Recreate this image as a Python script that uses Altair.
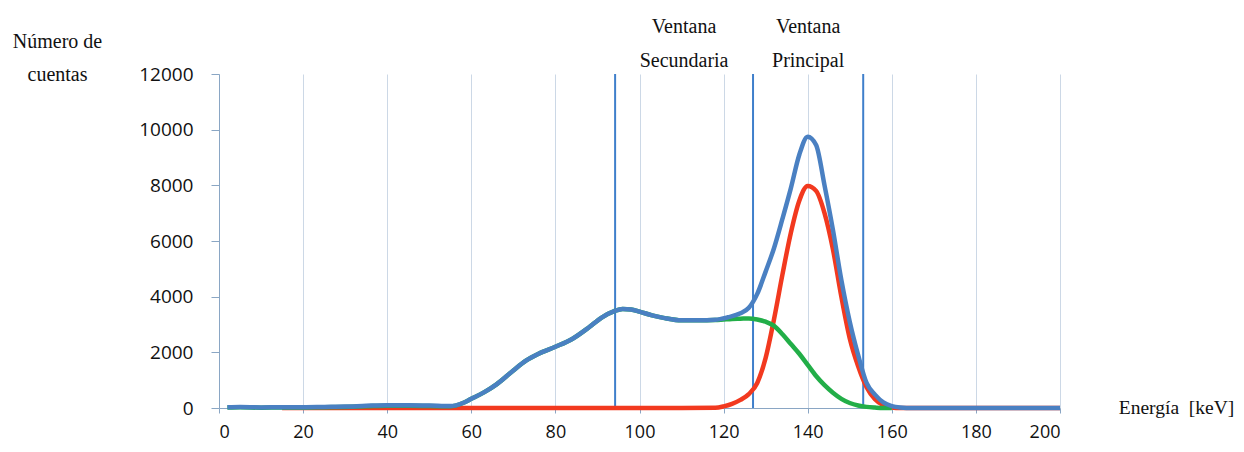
import altair as alt
import pandas as pd

# Energy axis (keV) and counts
e_total = [2, 5, 10, 15, 20, 25, 30, 35, 40, 45, 50, 55, 58, 60, 63, 66, 70, 73, 76, 80, 84, 88, 91, 94,
           96, 98, 100, 103, 106, 110, 114, 118, 121, 124, 126, 128, 130, 132, 134, 136, 138, 140,
           142, 144, 146, 148, 150, 152, 154, 156, 158, 160, 162, 165, 170, 180, 190, 200]
total = [30, 40, 20, 30, 30, 40, 50, 80, 100, 100, 90, 70, 180, 330, 560, 850, 1350, 1700, 1950, 2200, 2480,
         2900, 3250, 3480, 3560, 3540, 3460, 3330, 3230, 3150, 3150, 3170, 3260, 3400, 3600, 4100, 4900,
         5750, 6800, 7900, 9100, 9750, 9450, 8000, 6400, 4600, 3100, 1900, 900, 480, 200, 70, 20, 0,
         0, 0, 0, 0]

e_prim = [15, 30, 50, 70, 90, 110, 118, 120, 122, 124, 126, 128, 130, 132, 134, 136, 138, 140, 142,
          144, 146, 148, 150, 152, 154, 156, 158, 160, 162, 170, 200]
primario = [0, 0, 0, 0, 0, 0, 10, 60, 150, 290, 500, 900, 1800, 3200, 4800, 6300, 7450, 7980, 7800,
            7000, 5700, 4000, 2500, 1500, 750, 320, 100, 20, 0, 0, 0]

e_disp = [2, 5, 10, 15, 20, 25, 30, 35, 40, 45, 50, 55, 58, 60, 63, 66, 70, 73, 76, 80, 84, 88, 91, 94,
          96, 98, 100, 103, 106, 110, 114, 118, 120, 122, 124, 126, 128, 130, 132, 134, 136, 138, 140,
          142, 144, 146, 148, 150, 152, 154, 156, 158, 160]
disperso = [20, 30, 10, 20, 20, 30, 40, 60, 80, 80, 70, 60, 180, 330, 560, 850, 1350, 1700, 1950, 2200,
            2480, 2900, 3250, 3480, 3560, 3540, 3460, 3330, 3230, 3150, 3150, 3160, 3180, 3200, 3210, 3220,
            3180, 3100, 2950, 2650, 2300, 1950, 1550, 1150, 820, 550, 330, 180, 90, 40, 15, 0, 0]

ventanas = [94.2, 127.0, 153.2]
etiquetas = ["Ventana\nSecundaria", "Ventana\nPrincipal"]

x_ticks = list(range(0, 201, 20))
y_ticks = list(range(0, 12001, 2000))

series_order = ["Primario", "Disperso", "Total"]
colors = ["#F2391F", "#22AE48", "#4A80C2"]

df = pd.concat([
    pd.DataFrame({"E": e_prim, "N": primario, "serie": "Primario", "o": 0}),
    pd.DataFrame({"E": e_disp, "N": disperso, "serie": "Disperso", "o": 1}),
    pd.DataFrame({"E": e_total, "N": total, "serie": "Total", "o": 2}),
], ignore_index=True)

df_win = pd.DataFrame({"E": ventanas, "y0": [0] * 3, "y1": [12000] * 3})
df_lab = pd.DataFrame({
    "E": [(ventanas[0] + ventanas[1]) / 2, (ventanas[1] + ventanas[2]) / 2],
    "t": etiquetas,
})

x_scale = alt.Scale(domain=[0, 200], nice=False)
y_scale = alt.Scale(domain=[0, 12000], nice=False)

sans = "Open Sans"
serif = "Liberation Serif"

x_axis = alt.Axis(values=x_ticks, format="d", grid=True, gridColor="#CCD8E6", gridWidth=1,
                  domainColor="#8AA6C4", tickColor="#8AA6C4", tickSize=5,
                  labelFont=sans, labelFontSize=18, labelColor="#111111", labelPadding=10,
                  title="Energía \u00a0[keV]", titleFont=serif, titleFontSize=19.5,
                  titleFontWeight="normal", titleColor="#111111", titleAngle=0,
                  titleX=957, titleY=5, titleAlign="center", titleBaseline="alphabetic")
y_axis = alt.Axis(values=y_ticks, format="d", grid=False, domainColor="#8AA6C4", tickColor="#8AA6C4",
                  tickSize=8, labelFont=sans, labelFontSize=19, labelColor="#111111",
                  labelPadding=18,
                  title=["Número de", "cuentas"], titleFont=serif, titleFontSize=20,
                  titleFontWeight="normal", titleColor="#111111", titleAngle=0,
                  titleX=-162, titleY=-27, titleAlign="center", titleBaseline="alphabetic",
                  titleLineHeight=33)

lines = alt.Chart(df).mark_line(strokeWidth=4.5, interpolate="monotone").encode(
    x=alt.X("E:Q", scale=x_scale, axis=x_axis),
    y=alt.Y("N:Q", scale=y_scale, axis=y_axis),
    color=alt.Color("serie:N", scale=alt.Scale(domain=series_order, range=colors), legend=None),
    detail="serie:N",
    order="o:Q",
)

rules = alt.Chart(df_win).mark_rule(color="#3F7FCB", strokeWidth=2).encode(
    x="E:Q", y="y0:Q", y2="y1:Q"
)

labels = alt.Chart(df_lab).mark_text(font=serif, fontSize=20, color="#111111", lineBreak="\n",
                                      lineHeight=34, baseline="alphabetic", align="center").encode(
    x="E:Q", y=alt.value(-41), text="t:N"
)

chart = alt.layer(rules, lines, labels).properties(
    width=841, height=334,
    autosize=alt.AutoSizeParams(type="none"),
    padding={"left": 211, "top": 66, "right": 176, "bottom": 36},
).configure_view(stroke=None)

chart.save("out.html", embed_options={"renderer": "svg", "actions": False})
